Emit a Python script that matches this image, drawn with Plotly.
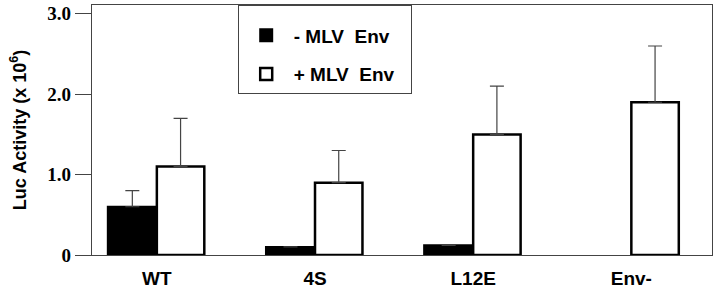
import plotly.graph_objects as go

categories = ["WT", "4S", "L12E", "Env-"]
minus_env = [0.6, 0.1, 0.12, None]
minus_env_err = [0.2, 0, 0, None]
plus_env = [1.1, 0.9, 1.5, 1.9]
plus_env_err = [0.6, 0.4, 0.6, 0.7]
ytick_vals = [0, 1, 2, 3]
ytick_text = ["0", "1.0", "2.0", "3.0"]

x = list(range(len(categories)))

fig = go.Figure()
fig.add_trace(go.Bar(
    x=x, y=minus_env, name="<b>-&nbsp;MLV&nbsp;&nbsp;Env&nbsp;&nbsp;</b>", offset=-0.31, width=0.31,
    marker=dict(color="black", line=dict(color="black", width=2)),
    error_y=dict(type="data", array=minus_env_err, arrayminus=[0]*4, symmetric=False,
                 color="#444", thickness=1.2, width=7),
    legendgroup="a",
))
fig.add_trace(go.Bar(
    x=x, y=plus_env, name="<b>+&nbsp;MLV&nbsp;&nbsp;Env&nbsp;&nbsp;</b>", offset=0.0, width=0.30,
    marker=dict(color="white", line=dict(color="black", width=2.5)),
    error_y=dict(type="data", array=plus_env_err, arrayminus=[0]*4, symmetric=False,
                 color="#444", thickness=1.2, width=7),
    legendgroup="b",
))

fig.update_layout(
    width=719, height=290,
    margin=dict(l=92, r=7, t=5, b=35, autoexpand=False),
    plot_bgcolor="white", paper_bgcolor="white",
    showlegend=True,
    legend=dict(
        x=0.235, y=1, xanchor="left", yanchor="top",
        bordercolor="#444", borderwidth=1, bgcolor="white",
        font=dict(family="Liberation Sans, Arial", size=19, color="black"),
        tracegroupgap=11, itemwidth=45,
        title=dict(text="&nbsp;", font=dict(size=8), side="top"),
    ),
    xaxis=dict(
        range=[-0.41, 3.51], tickmode="array", tickvals=x,
        ticktext=["<b>%s</b>" % c for c in categories],
        showline=True, linecolor="#444", linewidth=1.2, mirror=True,
        ticks="", showgrid=False, zeroline=False, automargin=False,
        ticklabelstandoff=6,
        tickfont=dict(family="Liberation Sans, Arial", size=19, color="black"),
    ),
    yaxis=dict(
        range=[0, 3.11], tickmode="array", tickvals=ytick_vals,
        ticktext=["<b>%s</b>" % t for t in ytick_text],
        showline=True, linecolor="#444", linewidth=1.2, mirror=True,
        ticks="outside", ticklen=16, tickcolor="#444", tickwidth=1.2,
        showgrid=False, zeroline=False, automargin=False,
        tickfont=dict(family="Liberation Serif, Times New Roman", size=19, color="black"),
        title=dict(text="<b>Luc Activity (x 10<sup>6</sup>)</b>",
                   font=dict(family="Liberation Sans, Arial", size=18, color="black"),
                   standoff=16),
    ),
)

fig.write_html("out.html", post_script="document.body.style.margin='0';",
               config={"displayModeBar": False})
